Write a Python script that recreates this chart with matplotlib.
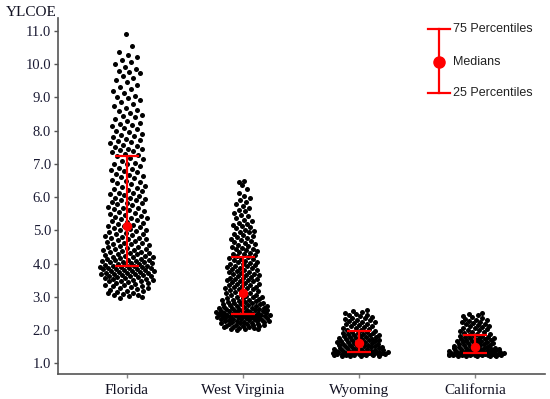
import numpy as np
import matplotlib
matplotlib.use("Agg")
import matplotlib.pyplot as plt
from matplotlib.lines import Line2D

# Data (YLCOE per site)
states = ["Florida", "West Virginia", "Wyoming", "California"]

florida = [
    2.98, 3.01, 3.04, 3.05, 3.09, 3.11, 3.12, 3.16, 3.18, 3.19, 3.22, 3.25, 3.26, 3.28, 3.31, 3.33, 3.34, 3.37, 3.38, 3.41,
    3.43, 3.44, 3.47, 3.49, 3.50, 3.52, 3.55, 3.56, 3.58, 3.59, 3.61, 3.63, 3.64, 3.66, 3.67, 3.69, 3.70, 3.72, 3.73, 3.74,
    3.76, 3.77, 3.79, 3.80, 3.81, 3.83, 3.84, 3.85, 3.87, 3.88, 3.89, 3.91, 3.92, 3.93, 3.94, 3.36, 3.48, 3.62, 3.71, 3.78,
    3.86, 3.90, 3.07, 3.53, 3.68,
    3.96, 3.97, 3.99, 4.01, 4.02, 4.04, 4.05, 4.07, 4.09, 4.10, 4.12, 4.14, 4.15, 4.17, 4.19, 4.21, 4.23, 4.24, 4.26, 4.28,
    4.30, 4.32, 4.34, 4.36, 4.38, 4.40, 4.42, 4.44, 4.47, 4.49, 4.51, 4.54, 4.56, 4.58, 4.61, 4.63, 4.66, 4.68, 4.71, 4.73,
    4.76, 4.78, 4.81, 4.84, 4.86, 4.89, 4.92, 4.95, 4.97, 5.00, 5.03, 5.06, 5.09, 5.12, 5.14, 4.00, 4.11, 4.20, 4.33, 4.45,
    4.59, 4.74, 4.88, 5.02, 4.06,
    5.17, 5.20, 5.23, 5.27, 5.30, 5.33, 5.36, 5.40, 5.43, 5.47, 5.50, 5.54, 5.57, 5.61, 5.64, 5.68, 5.71, 5.75, 5.79, 5.83,
    5.86, 5.90, 5.94, 5.98, 6.02, 6.06, 6.10, 6.14, 6.18, 6.22, 6.26, 6.31, 6.35, 6.39, 6.43, 6.48, 6.52, 6.57, 6.61, 6.66,
    6.70, 6.75, 6.80, 6.84, 6.89, 6.94, 6.99, 7.04, 7.09, 7.14, 7.19, 7.23, 5.25, 5.38, 5.52, 5.66, 5.81, 5.96, 6.12, 6.28,
    6.46, 6.63, 6.82, 7.01, 5.92,
    7.27, 7.31, 7.35, 7.38, 7.42, 7.46, 7.51, 7.55, 7.58, 7.63, 7.67, 7.72, 7.76, 7.81, 7.85, 7.90, 7.95, 8.00, 8.04, 8.09,
    8.14, 8.19, 8.24, 8.29, 8.35, 8.40, 8.46, 8.52, 8.58, 8.63, 8.69, 8.75, 8.81, 8.87, 8.93, 8.99, 9.05, 9.12, 9.18, 9.25,
    9.31, 9.38, 9.45, 9.52, 9.59, 9.66, 9.73, 9.80, 9.86, 9.93, 10.00, 10.07, 10.14, 10.21, 10.29, 10.38, 10.55, 10.90, 7.44, 7.69,
    7.88, 8.17, 8.43, 9.02, 9.78,
]

west_virginia = [
    2.01, 2.02, 2.04, 2.05, 2.07, 2.08, 2.09, 2.11, 2.12, 2.13, 2.15, 2.16, 2.17, 2.19, 2.20, 2.21, 2.22, 2.24, 2.25, 2.26,
    2.27, 2.28, 2.30, 2.31, 2.32, 2.33, 2.34, 2.35, 2.36, 2.37, 2.38, 2.39, 2.40, 2.41, 2.42, 2.43, 2.44, 2.45, 2.46, 2.47,
    2.48, 2.03, 2.10, 2.18, 2.23, 2.29, 2.34, 2.38, 2.42, 2.45, 2.48, 2.26, 2.36, 2.44, 2.14,
    2.50, 2.51, 2.52, 2.53, 2.54, 2.55, 2.56, 2.57, 2.58, 2.59, 2.60, 2.61, 2.62, 2.63, 2.64, 2.65, 2.66, 2.67, 2.68, 2.70,
    2.71, 2.72, 2.74, 2.75, 2.76, 2.78, 2.79, 2.80, 2.82, 2.83, 2.85, 2.86, 2.88, 2.89, 2.91, 2.92, 2.94, 2.96, 2.97, 2.99,
    3.01, 3.03, 3.05, 3.07, 3.09, 3.11, 3.12, 2.53, 2.57, 2.62, 2.66, 2.73, 2.81, 2.90, 3.00,
    3.15, 3.17, 3.19, 3.21, 3.23, 3.26, 3.28, 3.30, 3.33, 3.35, 3.38, 3.40, 3.42, 3.45, 3.47, 3.50, 3.52, 3.55, 3.57, 3.60,
    3.62, 3.65, 3.67, 3.70, 3.73, 3.75, 3.78, 3.80, 3.83, 3.86, 3.88, 3.91, 3.94, 3.96, 3.99, 4.02, 4.05, 4.08, 4.11, 4.14,
    4.17, 4.20, 3.24, 3.36, 3.48, 3.58, 3.69, 3.81, 3.92, 4.04, 4.15, 3.31, 3.53, 3.76, 3.98,
    4.23, 4.26, 4.29, 4.32, 4.35, 4.38, 4.41, 4.44, 4.47, 4.51, 4.54, 4.57, 4.61, 4.64, 4.68, 4.71, 4.75, 4.79, 4.82, 4.86,
    4.90, 4.94, 4.98, 5.02, 5.06, 5.10, 5.14, 5.19, 5.23, 5.28, 5.32, 5.37, 5.42, 5.47, 5.52, 5.57, 5.62, 5.68, 5.73, 5.79,
    5.85, 5.91, 5.97, 6.04, 6.12, 6.25, 6.38, 6.45, 6.50, 4.30, 4.43, 4.59, 4.77, 4.96, 5.17,
]

wyoming = [
    1.21, 1.22, 1.23, 1.23, 1.24, 1.25, 1.25, 1.26, 1.27, 1.27, 1.28, 1.28, 1.29, 1.29, 1.30, 1.30, 1.31, 1.31, 1.32, 1.32,
    1.33, 1.33, 1.33, 1.34, 1.34, 1.34, 1.24, 1.27, 1.29, 1.31,
    1.35, 1.36, 1.37, 1.38, 1.38, 1.39, 1.40, 1.41, 1.42, 1.43, 1.44, 1.45, 1.46, 1.47, 1.48, 1.49, 1.50, 1.51, 1.52, 1.53,
    1.54, 1.55, 1.56, 1.57, 1.58, 1.59, 1.60, 1.41, 1.47, 1.53,
    1.62, 1.63, 1.64, 1.66, 1.67, 1.68, 1.70, 1.71, 1.72, 1.74, 1.75, 1.77, 1.78, 1.80, 1.81, 1.83, 1.84, 1.86, 1.87, 1.89,
    1.90, 1.92, 1.93, 1.95, 1.65, 1.73, 1.79, 1.85, 1.91, 1.69,
    1.97, 1.99, 2.01, 2.03, 2.05, 2.07, 2.09, 2.11, 2.13, 2.15, 2.17, 2.19, 2.21, 2.23, 2.25, 2.27, 2.29, 2.31, 2.33, 2.35,
    2.37, 2.39, 2.41, 2.44, 2.47, 2.50, 2.53, 2.56, 2.59, 2.61,
]

california = [
    1.22, 1.22, 1.23, 1.23, 1.24, 1.24, 1.24, 1.25, 1.25, 1.25, 1.26, 1.26, 1.26, 1.27, 1.27, 1.27, 1.28, 1.28, 1.28, 1.29,
    1.29, 1.29, 1.29, 1.30, 1.30, 1.30, 1.30, 1.23, 1.26, 1.28,
    1.31, 1.32, 1.32, 1.33, 1.34, 1.34, 1.35, 1.36, 1.36, 1.37, 1.38, 1.39, 1.39, 1.40, 1.41, 1.42, 1.42, 1.43, 1.44, 1.45,
    1.45, 1.46, 1.47, 1.48, 1.49, 1.49, 1.35, 1.38, 1.41, 1.44,
    1.51, 1.52, 1.54, 1.55, 1.56, 1.58, 1.59, 1.61, 1.62, 1.64, 1.65, 1.67, 1.68, 1.70, 1.71, 1.73, 1.74, 1.76, 1.77, 1.79,
    1.80, 1.82, 1.83, 1.85, 1.57, 1.63, 1.69, 1.75, 1.81, 1.66,
    1.87, 1.89, 1.91, 1.93, 1.95, 1.97, 1.99, 2.01, 2.03, 2.05, 2.07, 2.09, 2.11, 2.13, 2.15, 2.17, 2.19, 2.21, 2.23, 2.25,
    2.27, 2.29, 2.31, 2.33, 2.36, 2.39, 2.42, 2.45, 2.48, 2.51,
]

# percentiles as drawn on the chart
p25 = [3.94, 2.49, 1.35, 1.31]
medians = [5.14, 3.13, 1.61, 1.50]
p75 = [7.25, 4.21, 1.96, 1.86]

y_ticks = [1.0, 2.0, 3.0, 4.0, 5.0, 6.0, 7.0, 8.0, 9.0, 10.0, 11.0]

W, H = 550, 399
fig = plt.figure(figsize=(W / 100, H / 100), dpi=100)
ax = fig.add_axes([58 / W, 1 - 374 / H, (545 - 58) / W, (374 - 18) / H])
ax.set_xlim(-0.595, 3.603)
ax.set_ylim(0.68, 11.39)

PX_X = 116.0   # pixels per category step
GOLD = 0.6180339887


def sina(values, bw, half_px, gamma):
    # spread points sideways within a density-scaled band (sina style)
    ys = np.asarray(values, dtype=float)
    dens = np.exp(-0.5 * ((ys[:, None] - ys[None, :]) / bw) ** 2).sum(axis=1)
    width = half_px * (dens / dens.max()) ** gamma
    out = np.zeros(len(ys))
    for k, i in enumerate(np.argsort(ys)):
        u = 2 * ((k * GOLD + 0.31) % 1.0) - 1
        out[i] = width[i] * u
    return out / PX_X


groups = [florida, west_virginia, wyoming, california]
bws = [0.3, 0.22, 0.08, 0.08]
halfw = [28, 28, 29, 29]
gammas = [0.45, 0.65, 0.45, 0.45]
for i, vals in enumerate(groups):
    xs = i + sina(vals, bws[i], halfw[i], gammas[i])
    ax.scatter(xs, vals, s=13, color="black", linewidths=0, zorder=2)

x = np.arange(len(states))
med = np.array(medians)
ax.errorbar(x, med, yerr=[med - np.array(p25), np.array(p75) - med], fmt="o",
            color="#ff0000", ecolor="#ff0000", elinewidth=1.6, capsize=8.3,
            capthick=1.6, markersize=5.8, zorder=3)

for side in ["top", "right"]:
    ax.spines[side].set_visible(False)
for side in ["left", "bottom"]:
    ax.spines[side].set_color("#555555")
    ax.spines[side].set_linewidth(1.2)

ax.set_yticks(y_ticks)
ax.set_yticklabels(["%.1f" % t for t in y_ticks], family="Liberation Serif",
                   fontsize=10.5, color="#1a1a33")
ax.set_xticks(x)
ax.set_xticklabels(states, family="Liberation Serif", fontsize=11, color="#111122")
ax.tick_params(axis="y", length=3, width=1, color="#555555", pad=2)
ax.tick_params(axis="x", length=3, width=1, color="#888888", pad=4)

fig.text(6 / W, 1 - 13 / H, "YLCOE", family="Liberation Serif", fontsize=11,
         color="#111122", va="center", ha="left")

# legend drawn by hand in the top right corner
lx = 439 / W
yt, ym, yb = 1 - 29 / H, 1 - 62 / H, 1 - 93 / H
cw = 11 / W
for artist in [
    Line2D([lx, lx], [yb, yt], color="#ff0000", lw=1.6),
    Line2D([lx - cw, lx + cw], [yt, yt], color="#ff0000", lw=1.6),
    Line2D([lx - cw, lx + cw], [yb, yb], color="#ff0000", lw=1.6),
    Line2D([lx], [ym], color="#ff0000", marker="o", markersize=8),
]:
    artist.set_transform(fig.transFigure)
    fig.add_artist(artist)
tx = 453 / W
for yy, txt in [(yt, "75 Percentiles"), (ym, "Medians"), (yb, "25 Percentiles")]:
    fig.text(tx, yy, txt, family="Liberation Sans", fontsize=9, color="#222222",
             va="center", ha="left")

fig.savefig("out.png", dpi=100)
